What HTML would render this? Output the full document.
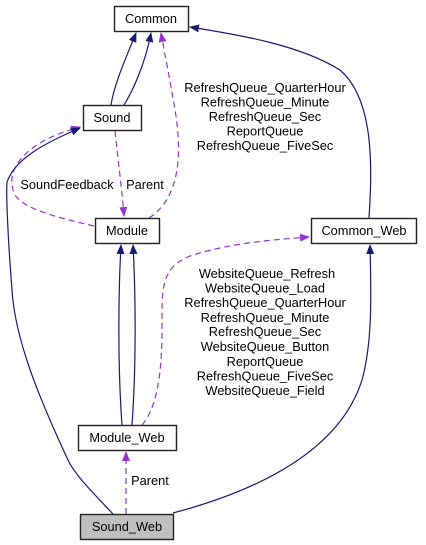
<!DOCTYPE html>
<html><head><meta charset="utf-8"><style>
html,body{margin:0;padding:0;background:#fff;}
svg{display:block;}
text{font-family:"Liberation Sans",sans-serif;font-size:12.8px;fill:#000;}
</style></head><body>
<svg width="426" height="545" viewBox="0 0 426 545" xmlns="http://www.w3.org/2000/svg">
<defs>
<marker id="n" markerWidth="10" markerHeight="8" refX="9" refY="4" orient="auto" markerUnits="userSpaceOnUse"><path d="M0,0 L10,4 L0,8 z" fill="#191970"/></marker>
<marker id="p" markerWidth="10" markerHeight="8" refX="9" refY="4" orient="auto" markerUnits="userSpaceOnUse"><path d="M0,0 L10,4 L0,8 z" fill="#9a32cd"/></marker>
</defs>
<g fill="none" stroke-width="1.2">
<path d="M111,105 C114,85 125,60 136,33" stroke="#191970" marker-end="url(#n)"/>
<path d="M124,105 C132,92 145,65 151,33" stroke="#191970" marker-end="url(#n)"/>
<path d="M149,218 C185,195 180,140 175,110 C170,80 165,55 161,33" stroke="#9a32cd" stroke-dasharray="6,4" marker-end="url(#p)"/>
<path d="M369,218 C372,170 375,100 340,70 C300,45 240,35 190,27" stroke="#191970" marker-end="url(#n)"/>
<path d="M115,131 C118,160 122,190 124,216" stroke="#9a32cd" stroke-dasharray="6,4" marker-end="url(#p)"/>
<path d="M94,226 C60,218 25,210 15,195 C8,180 12,165 30,150 C45,138 60,133 80,127" stroke="#9a32cd" stroke-dasharray="6,4" marker-end="url(#p)"/>
<path d="M113,514 C95,495 75,475 68,460 C40,400 15,340 12,290 C8,240 6,195 7,182 C15,160 40,145 80,128" stroke="#191970" marker-end="url(#n)"/>
<path d="M122,425 C118,370 118,300 121,245" stroke="#191970" marker-end="url(#n)"/>
<path d="M132,425 C136,370 136,300 133,245" stroke="#191970" marker-end="url(#n)"/>
<path d="M142,425 C155,410 162,380 162,330 C162,290 160,268 190,256 C230,243 270,240 309,237" stroke="#9a32cd" stroke-dasharray="6,4" marker-end="url(#p)"/>
<path d="M173,513 C260,490 340,450 362,380 C373,340 371,290 370,245" stroke="#191970" marker-end="url(#n)"/>
<path d="M126,514 L126,452" stroke="#9a32cd" stroke-dasharray="6,4" marker-end="url(#p)"/>
</g>
<g stroke="#222" stroke-width="1.4">
<rect x="114.5" y="6.5" width="74" height="25" fill="#fff"/>
<rect x="83.5" y="105.5" width="58" height="25" fill="#fff"/>
<rect x="95.5" y="218.5" width="64" height="25" fill="#fff"/>
<rect x="311.5" y="218.5" width="105" height="25" fill="#fff"/>
<rect x="78.5" y="425.5" width="98" height="25" fill="#fff"/>
<rect x="80.5" y="514.5" width="93" height="25" fill="#bfbfbf"/>
</g>
<g text-anchor="middle">
<text x="151" y="23">Common</text>
<text x="112" y="122">Sound</text>
<text x="127" y="235">Module</text>
<text x="364" y="235">Common_Web</text>
<text x="127" y="442">Module_Web</text>
<text x="127" y="531">Sound_Web</text>
<text x="265" y="92">RefreshQueue_QuarterHour</text>
<text x="265" y="106.5">RefreshQueue_Minute</text>
<text x="265" y="121">RefreshQueue_Sec</text>
<text x="265" y="135.5">ReportQueue</text>
<text x="265" y="150">RefreshQueue_FiveSec</text>
<text x="67" y="189">SoundFeedback</text>
<text x="145" y="189">Parent</text>
<text x="267" y="278">WebsiteQueue_Refresh</text>
<text x="265" y="292.5">WebsiteQueue_Load</text>
<text x="265" y="307">RefreshQueue_QuarterHour</text>
<text x="265" y="322">RefreshQueue_Minute</text>
<text x="265" y="336">RefreshQueue_Sec</text>
<text x="265" y="351">WebsiteQueue_Button</text>
<text x="265" y="366">ReportQueue</text>
<text x="265" y="380.5">RefreshQueue_FiveSec</text>
<text x="265" y="395">WebsiteQueue_Field</text>
<text x="150" y="485">Parent</text>
</g>
</svg>
</body></html>
